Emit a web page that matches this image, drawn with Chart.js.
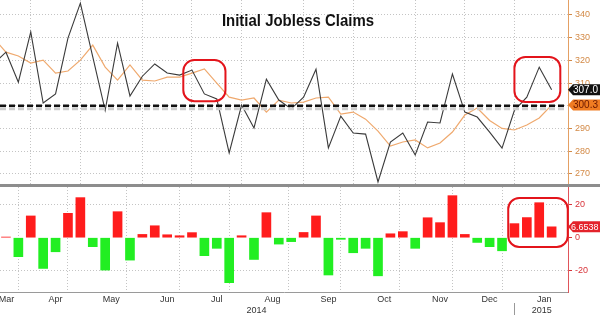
<!DOCTYPE html>
<html>
<head>
<meta charset="utf-8">
<title>Initial Jobless Claims</title>
<script src="https://cdn.jsdelivr.net/npm/chart.js@4.4.1/dist/chart.umd.min.js"></script>
<style>
  body { margin: 0; background: #fff; }
  #wrap { position: relative; width: 600px; height: 315px; overflow: hidden; }
  #topChart { position: absolute; left: 0; top: 0; }
  #bottomChart { position: absolute; left: 0; top: 187px; }
  .sep { position: absolute; left: 0; top: 184px; width: 600px; height: 3px; background: #8d8d8d; }
  .title { position: absolute; left: 0; top: 12px; width: 596px; text-align: center;
           font: bold 17px/17px "Liberation Sans", Arial, sans-serif; color: #111;
           transform: scaleX(0.88); transform-origin: 298px 0; }
</style>
</head>
<body>
<div id="wrap">
  <canvas id="topChart" width="600" height="184"></canvas>
  <div class="sep"></div>
  <canvas id="bottomChart" width="600" height="128"></canvas>
  <div class="title">Initial Jobless Claims</div>
</div>
<script>
// weekly data, thousands
const weeks = ['2014-03-15', '2014-03-22', '2014-03-29', '2014-04-05', '2014-04-12', '2014-04-19', '2014-04-26',
  '2014-05-03', '2014-05-10', '2014-05-17', '2014-05-24', '2014-05-31', '2014-06-07', '2014-06-14', '2014-06-21',
  '2014-06-28', '2014-07-05', '2014-07-12', '2014-07-19', '2014-07-26', '2014-08-02', '2014-08-09', '2014-08-16',
  '2014-08-23', '2014-08-30', '2014-09-06', '2014-09-13', '2014-09-20', '2014-09-27', '2014-10-04', '2014-10-11',
  '2014-10-18', '2014-10-25', '2014-11-01', '2014-11-08', '2014-11-15', '2014-11-22', '2014-11-29', '2014-12-06',
  '2014-12-13', '2014-12-20', '2014-12-27', '2015-01-03', '2015-01-10', '2015-01-17', '2015-01-24'];
const claims = [318.5, 323.6, 310.4, 332.5, 301.2, 305.2, 329.8, 345.2, 321.5, 298.0, 327.6, 304.3, 313.0, 318.4, 314.4,
  313.5, 315.7, 305.2, 303.0, 279.2, 300.3, 290.2, 311.7, 302.5, 298.6, 303.8, 316.1, 281.4, 295.4, 288.0, 287.5,
  266.4, 284.0, 288.0, 278.3, 292.8, 292.4, 314.0, 297.2, 295.0, 288.4, 281.3, 298.0, 303.8, 317.0, 307.0];
const smoothed = [329.8, 323.6, 321.9, 318.8, 320.1, 314.4, 315.3, 320.1, 326.7, 317.0, 311.3, 318.0, 311.3, 310.9, 312.6,
  312.6, 314.4, 316.2, 310.0, 303.8, 302.5, 303.4, 297.2, 302.5, 301.2, 301.6, 303.4, 303.8, 296.3, 297.2, 294.1,
  288.8, 282.2, 284.0, 284.9, 281.4, 283.6, 288.4, 295.9, 299.0, 293.5, 290.0, 289.3, 291.5, 294.6, 300.3];
const spread = [-11.0, 0.4, -11.6, 13.3, -18.8, -8.6, 14.9, 24.5, -5.5, -19.8, 15.9, -13.7, 2.0, 7.3, 1.8,
  1.2, 3.1, -11.0, -6.5, -27.5, 1.2, -13.3, 15.3, -3.9, -2.4, 3.2, 13.3, -22.8, -1.0, -9.2, -6.5,
  -23.3, 2.4, 3.7, -6.5, 12.2, 9.2, 25.7, 2.0, -2.9, -5.5, -8.0, 8.6, 12.3, 21.4, 6.6538];

const monthStarts = [3, 7, 12, 16, 20, 25, 29, 34, 38, 42];
const monthNames = ['Mar', 'Apr', 'May', 'Jun', 'Jul', 'Aug', 'Sep', 'Oct', 'Nov', 'Dec', 'Jan'];
const monthLabelAt = [1.05, 5, 9.5, 14, 18, 22.5, 27, 31.5, 36, 40, 44.4];
const yearNames = ['2014', '2015'];
const yearLabelAt = [21.2, 44.2];
const claimTicks = [270, 280, 290, 300, 310, 320, 330, 340];
const spreadTicks = [-20, 0, 20];
const refLevel = 300;

// highlighted areas (week index range, value range)
const topMarks = [{ from: 15.3, to: 18.7, lo: 302, hi: 320.1 }, { from: 42, to: 45.7, lo: 301.6, hi: 321.5 }];
const bottomMarks = [{ from: 41.5, to: 46.3, lo: -5.7, hi: 24.3 }];

const font = '"Liberation Sans", Arial, sans-serif';
const gridGrey = '#c4c4c4';
const orangeAxis = '#d38a47';
const redAxis = '#d8343a';
const xMin = 0.52, xMax = 46.32;

const axisTicks = [
  ...monthStarts.map(v => ({ value: v, label: '', grid: true })),
  ...monthNames.map((m, j) => ({ value: monthLabelAt[j], label: m, grid: false })),
  ...yearNames.map((y, j) => ({ value: yearLabelAt[j], label: ['', y], grid: false }))
].sort((a, b) => a.value - b.value);

function flatPadding(s) {
  s.paddingTop = 0; s.paddingBottom = 0; s.paddingLeft = 0; s.paddingRight = 0;
}

function roundBox(ctx, x1, y1, x2, y2, r) {
  ctx.beginPath();
  ctx.moveTo(x1 + r, y1);
  ctx.arcTo(x2, y1, x2, y2, r);
  ctx.arcTo(x2, y2, x1, y2, r);
  ctx.arcTo(x1, y2, x1, y1, r);
  ctx.arcTo(x1, y1, x2, y1, r);
  ctx.closePath();
  ctx.stroke();
}

function drawMarks(chart, marks) {
  const { ctx, scales: { x, y } } = chart;
  ctx.save();
  ctx.strokeStyle = '#e3141b';
  ctx.lineWidth = 2;
  marks.forEach(m => {
    roundBox(ctx, x.getPixelForValue(m.from), y.getPixelForValue(m.hi),
      x.getPixelForValue(m.to), y.getPixelForValue(m.lo), 11);
  });
  ctx.restore();
}

function valueTag(ctx, left, yPix, text, bg, fg, size, inset) {
  ctx.save();
  ctx.fillStyle = bg;
  ctx.beginPath();
  ctx.moveTo(left - 1, yPix);
  ctx.lineTo(left + 4, yPix - 5.5);
  ctx.lineTo(600, yPix - 5.5);
  ctx.lineTo(600, yPix + 5.5);
  ctx.lineTo(left + 4, yPix + 5.5);
  ctx.closePath();
  ctx.fill();
  ctx.fillStyle = fg;
  ctx.font = size + 'px ' + font;
  ctx.textBaseline = 'middle';
  ctx.fillText(text, left + inset, yPix + 0.5);
  ctx.restore();
}

const topOverlay = {
  id: 'topOverlay',
  afterDatasetsDraw(chart) {
    const { ctx, chartArea: a, scales: { y } } = chart;
    const yRef = y.getPixelForValue(refLevel);
    ctx.save();
    ctx.setLineDash([6, 3]);
    ctx.lineWidth = 3;
    ctx.strokeStyle = '#cdcdcd';
    ctx.beginPath(); ctx.moveTo(a.left, yRef + 3); ctx.lineTo(a.right - 2, yRef + 3); ctx.stroke();
    ctx.lineWidth = 2.5;
    ctx.strokeStyle = '#111';
    ctx.beginPath(); ctx.moveTo(a.left, yRef); ctx.lineTo(a.right - 4, yRef); ctx.stroke();
    ctx.restore();
    drawMarks(chart, topMarks);
  },
  afterDraw(chart) {
    const { ctx, chartArea: a, scales: { y } } = chart;
    const lastClaim = claims[claims.length - 1];
    const lastAvg = smoothed[smoothed.length - 1];
    valueTag(ctx, a.right + 1, y.getPixelForValue(lastClaim), lastClaim.toFixed(1), '#111', '#fff', 10, 4);
    valueTag(ctx, a.right + 1, y.getPixelForValue(lastAvg), lastAvg.toFixed(1), '#f07c22', '#6a1800', 10, 4);
  }
};

const bottomOverlay = {
  id: 'bottomOverlay',
  afterDatasetsDraw(chart) {
    drawMarks(chart, bottomMarks);
  },
  afterDraw(chart) {
    const { ctx, chartArea: a, scales: { x, y } } = chart;
    const last = spread[spread.length - 1];
    valueTag(ctx, a.right + 1, y.getPixelForValue(last), last.toFixed(4), '#e3232b', '#fff', 9, 2);
    // year divider under the axis
    const xs = Math.round(x.getPixelForValue(monthStarts[monthStarts.length - 1])) + 0.5;
    ctx.save();
    ctx.strokeStyle = '#999';
    ctx.lineWidth = 1;
    ctx.beginPath(); ctx.moveTo(xs, a.bottom + 11); ctx.lineTo(xs, chart.height); ctx.stroke();
    ctx.restore();
  }
};

const topCtx = document.getElementById('topChart').getContext('2d');
new Chart(topCtx, {
  type: 'line',
  data: {
    datasets: [{
      label: 'Initial claims',
      data: claims.map((v, i) => ({ x: i, y: v })),
      borderColor: '#3a3a3a',
      borderWidth: 1.1,
      pointRadius: 0,
      tension: 0,
      order: 0
    }, {
      label: 'Smoothed',
      data: smoothed.map((v, i) => ({ x: i, y: v })),
      borderColor: '#efa96e',
      borderWidth: 1.2,
      pointRadius: 0,
      tension: 0,
      order: 1
    }]
  },
  options: {
    responsive: false,
    animation: false,
    layout: { padding: 0 },
    plugins: { legend: { display: false }, tooltip: { enabled: false } },
    scales: {
      x: {
        type: 'linear', min: xMin, max: xMax, offset: false,
        afterBuildTicks: s => { s.ticks = monthStarts.map(v => ({ value: v })); },
        afterFit: s => { s.height = 0; flatPadding(s); },
        ticks: { display: false },
        grid: { color: gridGrey, drawTicks: false },
        border: { display: false, dash: [1, 2] }
      },
      y: {
        type: 'linear', position: 'right', min: 265.5, max: 346.6,
        afterBuildTicks: s => { s.ticks = claimTicks.map(v => ({ value: v })); },
        afterFit: s => { s.width = 32; flatPadding(s); },
        ticks: { color: orangeAxis, font: { size: 9, family: font }, padding: 3 },
        grid: { color: gridGrey, tickColor: orangeAxis, tickLength: 4 },
        border: { color: '#e4a064', dash: [1, 2] }
      }
    }
  },
  plugins: [topOverlay]
});

const bottomCtx = document.getElementById('bottomChart').getContext('2d');
new Chart(bottomCtx, {
  type: 'bar',
  data: {
    datasets: [{
      label: 'Spread',
      data: spread.map((v, i) => ({ x: i, y: v })),
      backgroundColor: c => (c.raw && c.raw.y >= 0 ? '#ff1c1c' : '#22ee22'),
      borderWidth: 0,
      barThickness: 9
    }]
  },
  options: {
    responsive: false,
    animation: false,
    layout: { padding: 0 },
    plugins: { legend: { display: false }, tooltip: { enabled: false } },
    scales: {
      x: {
        type: 'linear', min: xMin, max: xMax, offset: false,
        afterBuildTicks: s => { s.ticks = axisTicks.map(t => ({ value: t.value })); },
        afterFit: s => { s.height = 23; flatPadding(s); },
        ticks: {
          autoSkip: false, maxRotation: 0, minRotation: 0, padding: 2,
          color: '#333', font: { size: 9, family: font, lineHeight: 1.25 },
          callback: (v, i) => axisTicks[i].label
        },
        grid: {
          color: c => (axisTicks[c.index] && axisTicks[c.index].grid ? gridGrey : 'rgba(0,0,0,0)'),
          drawTicks: false
        },
        border: { display: true, color: '#9a9a9a', width: 1, dash: [1, 2] }
      },
      y: {
        type: 'linear', position: 'right', min: -33.2, max: 31,
        afterBuildTicks: s => { s.ticks = spreadTicks.map(v => ({ value: v })); },
        afterFit: s => { s.width = 32; flatPadding(s); },
        ticks: { color: redAxis, font: { size: 9, family: font }, padding: 3 },
        grid: {
          color: c => (c.tick && c.tick.value === 0 ? 'rgba(0,0,0,0)' : gridGrey),
          tickColor: redAxis, tickLength: 4
        },
        border: { color: '#e0555a', dash: [1, 2] }
      }
    }
  },
  plugins: [bottomOverlay]
});
</script>
</body>
</html>
